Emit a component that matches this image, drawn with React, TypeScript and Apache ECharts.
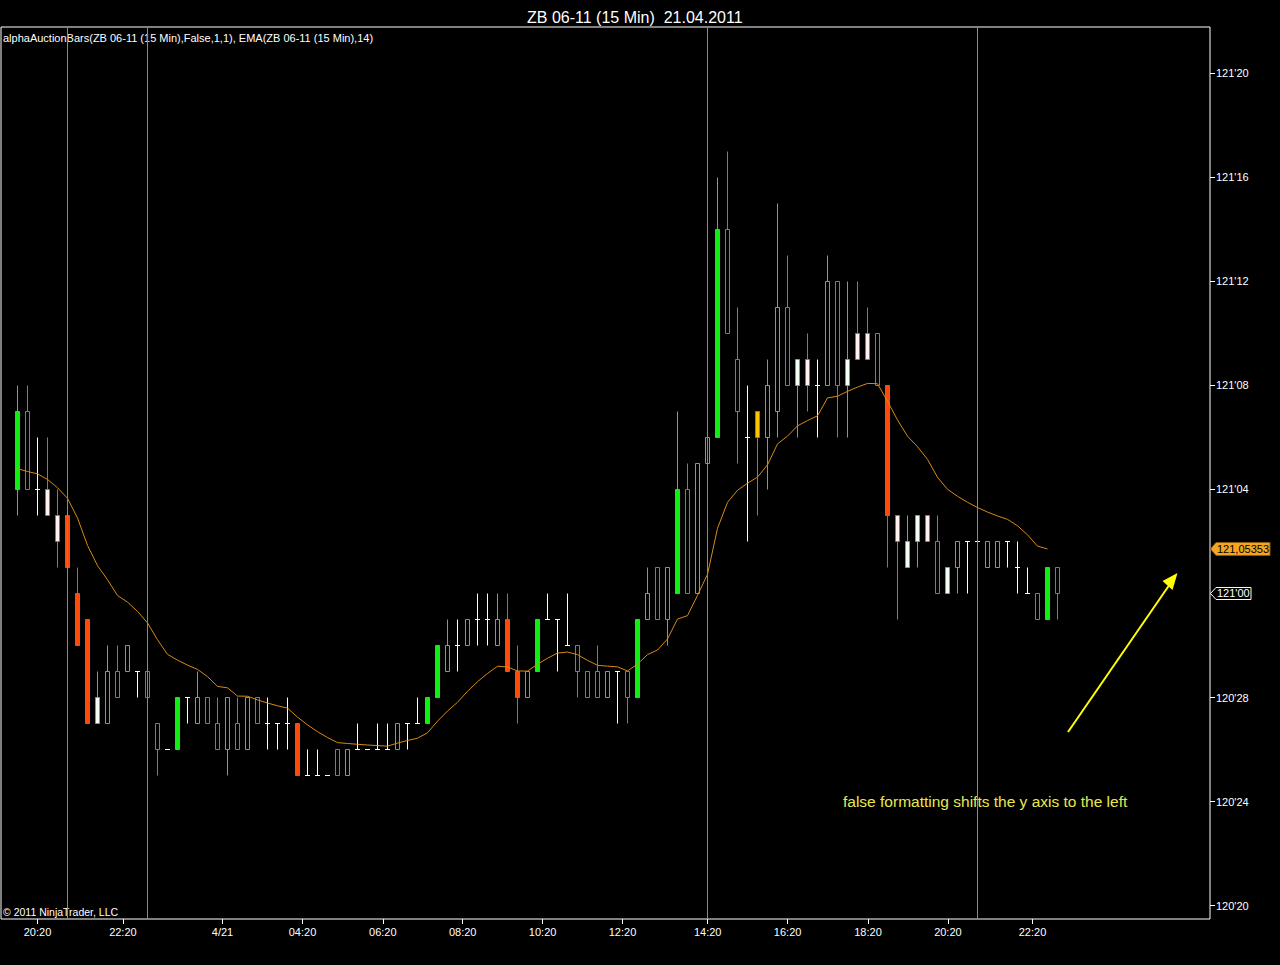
import React, { useEffect, useRef } from "react";
import * as echarts from "echarts";

const FONT = "'Liberation Sans', Arial, sans-serif";
const TITLE = "ZB 06-11 (15 Min)  21.04.2011";
const INDICATOR_LABEL = "alphaAuctionBars(ZB 06-11 (15 Min),False,1,1), EMA(ZB 06-11 (15 Min),14)";
const COPYRIGHT = "\u00a9 2011 NinjaTrader, LLC";
const NOTE = "false formatting shifts the y axis to the left";

// Prices are in 32nds relative to 121'00
const BASE_HANDLE = 121;

const OPEN = [
  4, 7, 4, 4, 3, 3, 0, -1, -5, -5,
  -3, -3, -3, -3, -5, -6, -6, -4, -5, -4,
  -5, -6, -5, -6, -4, -5, -5, -5, -5, -7,
  -7, -7, -6, -7, -6, -6, -6, -6, -6, -5,
  -5, -5, -4, -3, -2, -2, -1, -1, -2, -1,
  -3, -4, -3, -1, -1, -2, -2, -3, -3, -4,
  -3, -3, -4, -1, 1, -1, 0, 4, 0, 5,
  6, 14, 9, 6, 7, 6, 7, 11, 8, 9,
  8, 8, 12, 8, 10, 10, 10, 8, 3, 1,
  2, 3, 2, 0, 1, 2, 2, 1, 1, 2,
  1, 0, 0, -1, 1,
];
const CLOSE = [
  7, 4, 4, 3, 2, 1, -2, -5, -4, -3,
  -4, -2, -3, -4, -6, -6, -4, -4, -4, -5,
  -6, -4, -6, -4, -5, -5, -5, -5, -7, -7,
  -7, -7, -7, -6, -6, -6, -6, -6, -5, -5,
  -5, -4, -2, -2, -2, -1, -1, -1, -1, -3,
  -4, -3, -1, -1, -1, -2, -3, -4, -4, -3,
  -3, -4, -1, 0, -1, 1, 4, 0, 5, 6,
  14, 10, 7, 6, 6, 8, 11, 8, 9, 8,
  8, 12, 8, 9, 9, 9, 8, 3, 2, 2,
  3, 2, 0, 1, 2, 2, 2, 2, 2, 2,
  1, 0, -1, 1, 0,
];
const LOW = [
  3, 4, 3, 3, 1, 0, -2, -5, -5, -5,
  -4, -3, -4, -6, -7, -6, -6, -5, -5, -5,
  -6, -7, -6, -6, -5, -6, -6, -6, -7, -7,
  -7, -7, -7, -7, -6, -6, -6, -6, -6, -6,
  -5, -5, -4, -3, -3, -2, -2, -2, -2, -3,
  -5, -4, -3, -1, -3, -2, -4, -4, -4, -4,
  -5, -5, -4, -1, -1, -2, 0, 0, 0, 5,
  6, 10, 5, 2, 3, 4, 6, 8, 6, 7,
  6, 8, 6, 6, 9, 9, 8, 1, -1, 1,
  1, 2, 0, 0, 0, 0, 1, 1, 1, 1,
  0, 0, -1, -1, -1,
];
const HIGH = [
  8, 8, 6, 6, 4, 3, 1, -1, -3, -2,
  -2, -2, -3, -3, -5, -6, -4, -4, -3, -4,
  -4, -4, -4, -4, -4, -4, -5, -4, -5, -6,
  -6, -7, -6, -6, -5, -6, -5, -5, -5, -5,
  -4, -4, -2, -1, -1, -1, 0, 0, 0, 0,
  -2, -3, -1, 0, -1, 0, -2, -3, -2, -3,
  -3, -3, -1, 1, 1, 1, 7, 5, 5, 7,
  16, 17, 11, 8, 7, 9, 15, 13, 9, 10,
  9, 13, 12, 12, 12, 11, 10, 8, 3, 3,
  3, 3, 3, 1, 2, 2, 2, 2, 2, 2,
  2, 1, 0, 1, 1,
];
// bar colouring of alphaAuctionBars
const BAR_KIND = [
  "gf", "ro", "d", "wr", "wr", "rf", "rf", "rf", "wg", "go",
  "ro", "go", "d", "ro", "ro", "d", "gf", "d", "go", "ro",
  "ro", "go", "ro", "go", "ro", "d", "d", "d", "rf", "d",
  "d", "d", "ro", "go", "d", "d", "d", "d", "go", "d",
  "d", "gf", "gf", "go", "d", "go", "d", "d", "go", "rf",
  "rf", "go", "gf", "d", "d", "d", "ro", "ro", "ro", "go",
  "d", "ro", "gf", "go", "ro", "go", "gf", "ro", "go", "go",
  "gf", "ro", "ro", "d", "y", "go", "go", "ro", "wg", "wr",
  "d", "go", "ro", "wg", "wr", "wr", "ro", "rf", "wr", "wg",
  "wg", "wr", "ro", "wg", "go", "d", "d", "go", "go", "d",
  "d", "d", "ro", "gf", "ro",
];
const EMA14 = [
  4.8, 4.693, 4.601, 4.388, 4.069, 3.66, 2.905, 1.851, 1.071, 0.528,
  -0.076, -0.332, -0.688, -1.13, -1.779, -2.342, -2.563, -2.755, -2.921, -3.198,
  -3.572, -3.629, -3.945, -3.952, -4.092, -4.213, -4.318, -4.409, -4.755, -5.054,
  -5.314, -5.539, -5.734, -5.769, -5.8, -5.827, -5.85, -5.87, -5.754, -5.653,
  -5.566, -5.357, -4.91, -4.522, -4.185, -3.761, -3.393, -3.074, -2.797, -2.824,
  -2.981, -2.984, -2.719, -2.49, -2.291, -2.252, -2.352, -2.572, -2.762, -2.794,
  -2.821, -2.978, -2.714, -2.352, -2.172, -1.749, -0.983, -0.852, -0.072, 0.738,
  2.506, 3.505, 3.971, 4.242, 4.476, 4.946, 5.753, 6.053, 6.446, 6.653,
  6.833, 7.522, 7.586, 7.774, 7.938, 8.08, 8.069, 7.393, 6.674, 6.051,
  5.644, 5.158, 4.47, 4.008, 3.74, 3.508, 3.307, 3.133, 2.982, 2.851,
  2.604, 2.257, 1.823, 1.713, null,
];
const SESSION_BREAKS = [5, 13, 69, 96];
const X_TICK_POS = [2, 10.54, 20.5, 28.5, 36.53, 44.52, 52.51, 60.5, 69.02, 77.01, 85.05, 93.04, 101.5];
const X_TICK_LABELS = ["20:20", "22:20", "4/21", "04:20", "06:20", "08:20", "10:20", "12:20", "14:20", "16:20", "18:20", "20:20", "22:20"];
const Y_TICKS = [-12, -8, -4, 0, 4, 8, 12, 16, 20];

const KIND_STYLE: Record<string, { fill: string; border: string }> = {
  gf: { fill: "#10f010", border: "#10f010" },
  go: { fill: "#000000", border: "#3ccf3c" },
  rf: { fill: "#ff4a0a", border: "#ff4a0a" },
  ro: { fill: "#000000", border: "#ec5430" },
  wr: { fill: "#fff2ee", border: "#ec5430" },
  wg: { fill: "#f2fff2", border: "#3ccf3c" },
  d: { fill: "#ffffff", border: "#ffffff" },
  y: { fill: "#ffc400", border: "#ec5430" },
};

function fmt32(v: number): string {
  const total = Math.round(BASE_HANDLE * 32 + v);
  const handle = Math.floor(total / 32);
  const frac = total - handle * 32;
  return `${handle}'${String(frac).padStart(2, "0")}`;
}

const HALF_BODY = 2;

function renderBar(params: any, api: any) {
  const i = api.value(0);
  const o = api.value(1);
  const c = api.value(2);
  const l = api.value(3);
  const h = api.value(4);
  const s = KIND_STYLE[BAR_KIND[params.dataIndex]];
  const pO = api.coord([i, o]);
  const pC = api.coord([i, c]);
  const pL = api.coord([i, l]);
  const pH = api.coord([i, h]);
  const xc = Math.round(pO[0] - 0.5) + 0.5;
  const r = (y: number) => Math.round(y - 0.5) + 0.5;
  const children: any[] = [];
  if (pH[1] !== pL[1]) {
    children.push({
      type: "line",
      shape: { x1: xc, y1: r(pH[1]), x2: xc, y2: r(pL[1]) },
      style: { stroke: s.border, lineWidth: 1 },
    });
  }
  const top = r(Math.min(pO[1], pC[1]));
  const bot = r(Math.max(pO[1], pC[1]));
  if (bot - top < 0.5) {
    children.push({
      type: "line",
      shape: { x1: xc - HALF_BODY - 0.5, y1: top, x2: xc + HALF_BODY + 0.5, y2: top },
      style: { stroke: s.border, lineWidth: 1 },
    });
  } else {
    children.push({
      type: "rect",
      shape: { x: xc - HALF_BODY, y: top, width: HALF_BODY * 2, height: bot - top },
      style: { fill: s.fill, stroke: s.border, lineWidth: 1 },
    });
  }
  return { type: "group", children };
}

export default function App() {
  const ref = useRef<HTMLDivElement>(null);
  useEffect(() => {
    document.body.style.margin = "0";
    document.body.style.background = "#000";
    const chart = echarts.init(ref.current!, null, { renderer: "svg" });

    const bars = OPEN.map((o, i) => [i, o, CLOSE[i], LOW[i], HIGH[i]]);
    const ema = EMA14.map((v, i) => [i, v]).filter((p) => p[1] !== null);

    const option: any = {
      animation: false,
      backgroundColor: "#000000",
      title: {
        text: TITLE,
        left: 522,
        top: 4,
        textStyle: { color: "#ffffff", fontSize: 16, fontWeight: "normal", fontFamily: FONT },
      },
      grid: {
        left: 1,
        top: 27,
        right: 70,
        bottom: 46,
        show: true,
        borderColor: "#ffffff",
        borderWidth: 1,
        backgroundColor: "transparent",
        containLabel: false,
        outerBoundsMode: "none",
      },
      xAxis: {
        type: "value",
        min: -1.65,
        max: 119.25,
        axisLine: { show: false, onZero: false },
        splitLine: { show: false },
        axisTick: { show: true, customValues: X_TICK_POS, length: 5, lineStyle: { color: "#ffffff" } },
        axisLabel: {
          customValues: X_TICK_POS,
          formatter: (v: number) => {
            const k = X_TICK_POS.findIndex((p) => Math.abs(p - v) < 0.001);
            return k >= 0 ? X_TICK_LABELS[k] : "";
          },
          color: "#ffffff",
          fontSize: 11,
          fontFamily: FONT,
          margin: 7,
        },
      },
      yAxis: {
        type: "value",
        position: "right",
        min: -12.519,
        max: 21.788,
        axisLine: { show: false, onZero: false },
        splitLine: { show: false },
        axisTick: { show: true, customValues: Y_TICKS, length: 5, lineStyle: { color: "#ffffff" } },
        axisLabel: {
          customValues: Y_TICKS,
          formatter: (v: number) => fmt32(v),
          color: "#ffffff",
          fontSize: 11,
          fontFamily: FONT,
          margin: 6,
        },
      },
      series: [
        {
          type: "line",
          data: [],
          z: 1,
          silent: true,
          markLine: {
            silent: true,
            symbol: ["none", "none"],
            label: { show: false },
            lineStyle: { color: "#8a8a8a", width: 1, type: "solid" },
            data: SESSION_BREAKS.map((b) => ({ xAxis: b })),
          },
        },
        {
          type: "custom",
          data: bars,
          encode: { x: 0, y: [1, 2, 3, 4] },
          renderItem: renderBar,
          z: 3,
          silent: true,
        },
        {
          type: "line",
          data: ema,
          showSymbol: false,
          symbol: "none",
          z: 4,
          silent: true,
          lineStyle: { color: "#d68a18", width: 1 },
        },
      ],
    };
    chart.setOption(option);

    const lastEma = EMA14.filter((v) => v !== null).slice(-1)[0] as number;
    const lastClose = CLOSE[CLOSE.length - 1];
    const yEma = chart.convertToPixel({ yAxisIndex: 0 }, lastEma) as number;
    const yClose = chart.convertToPixel({ yAxisIndex: 0 }, lastClose) as number;
    const xAxisPx = 1210;
    const emaText = (BASE_HANDLE + lastEma / 32).toFixed(5).replace(".", ",");

    chart.setOption({
      graphic: [
        {
          type: "text",
          left: 3,
          top: 32,
          style: { text: INDICATOR_LABEL, fill: "#ffffff", font: `11px ${FONT}` },
        },
        {
          type: "text",
          left: 3,
          top: 906,
          style: { text: COPYRIGHT, fill: "#ffffff", font: `10.5px ${FONT}` },
        },
        {
          type: "text",
          x: 843,
          y: 801,
          style: { text: NOTE, fill: "#e8e84e", font: `15.5px ${FONT}`, verticalAlign: "middle" },
        },
        {
          type: "line",
          shape: { x1: 1068, y1: 732, x2: 1170, y2: 584 },
          style: { stroke: "#ffff00", lineWidth: 2 },
        },
        {
          type: "polygon",
          shape: { points: [[1177.5, 573], [1162.5, 581], [1172.5, 590]] },
          style: { fill: "#ffff00" },
        },
        {
          type: "polygon",
          z: 10,
          shape: {
            points: [
              [xAxisPx + 0.5, yEma],
              [xAxisPx + 6, yEma - 6.5],
              [1270, yEma - 6.5],
              [1270, yEma + 6.5],
              [xAxisPx + 6, yEma + 6.5],
            ],
          },
          style: { fill: "#f7a521", stroke: "#8a5a10", lineWidth: 1 },
        },
        {
          type: "text",
          z: 11,
          x: 1217,
          y: yEma,
          style: { text: emaText, fill: "#000000", font: `11px ${FONT}`, verticalAlign: "middle" },
        },
        {
          type: "polygon",
          z: 10,
          shape: {
            points: [
              [xAxisPx + 0.5, yClose],
              [xAxisPx + 6, yClose - 6],
              [1251, yClose - 6],
              [1251, yClose + 6],
              [xAxisPx + 6, yClose + 6],
            ],
          },
          style: { fill: "#000000", stroke: "#ffffff", lineWidth: 1 },
        },
        {
          type: "text",
          z: 11,
          x: 1217,
          y: yClose,
          style: { text: fmt32(lastClose), fill: "#ffffff", font: `11px ${FONT}`, verticalAlign: "middle" },
        },
      ],
    });

    return () => chart.dispose();
  }, []);
  return (
    <div
      ref={ref}
      style={{ position: "absolute", left: 0, top: 0, width: 1280, height: 965, background: "#000" }}
    />
  );
}
